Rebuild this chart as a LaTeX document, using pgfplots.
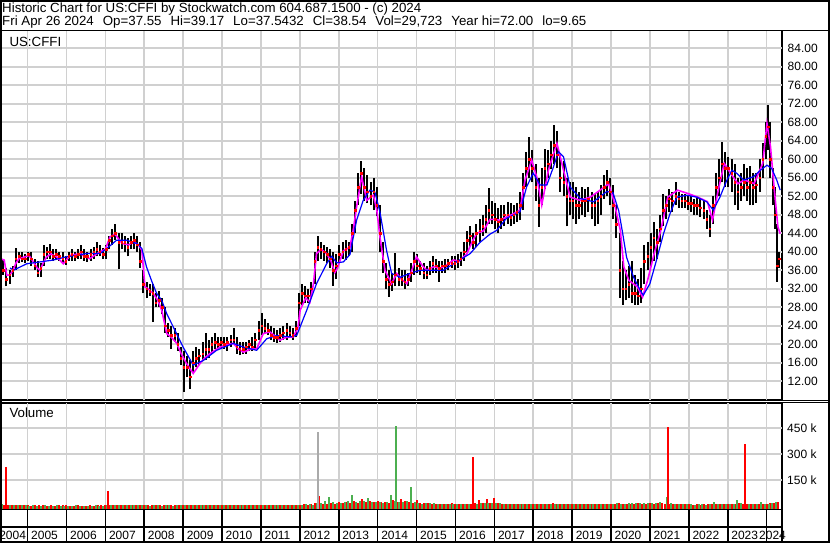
\documentclass[border=0pt]{standalone}
\usepackage{pgfplots}
\pgfplotsset{compat=1.18}
\usepackage{pgfplotstable}
\usepackage{fontspec}
\setmainfont{Liberation Sans}
\definecolor{gridc}{RGB}{208,208,208}
\definecolor{vred}{RGB}{255,0,0}
\definecolor{vgreen}{RGB}{76,175,80}
\definecolor{vgray}{RGB}{170,170,170}
\definecolor{magen}{RGB}{255,0,255}
\definecolor{mablue}{RGB}{0,0,255}

\pgfplotstableread[row sep=\\]{
x hi lo cl\\
2004.30 39.5 36.5 38\\ 2004.38 38.5 35.0 36\\ 2004.46 36.5 32.5 34\\ 2004.54 36.0 33.0 35\\ 2004.62 37.0 34.5 36\\
2004.70 40.8 36.0 38.5\\ 2004.78 40.0 37.5 39\\ 2004.86 40.0 37.8 38.5\\ 2004.94 39.5 37.5 38.5\\
2005.02 40.0 38.0 39.5\\ 2005.10 40.0 37.0 38.5\\ 2005.18 38.5 36.0 37\\ 2005.26 38.0 34.5 35.5\\ 2005.34 37.5 34.5 36.5\\
2005.42 41.5 37.0 39.5\\ 2005.50 41.0 38.5 40\\ 2005.58 41.6 38.5 40\\ 2005.66 40.5 38.0 39\\ 2005.74 40.5 38.5 39.5\\
2005.82 40.0 38.0 39\\ 2005.90 40.0 37.5 38.5\\ 2005.98 39.0 37.2 38\\
2006.06 40.0 38.0 39\\ 2006.14 40.5 38.0 39.5\\ 2006.22 40.0 38.0 39\\ 2006.30 40.5 38.5 39.5\\ 2006.38 41.4 38.5 40\\
2006.46 40.5 38.0 39\\ 2006.54 40.0 37.8 39\\ 2006.62 40.5 38.0 39.5\\ 2006.70 41.0 38.5 40\\ 2006.78 42.0 39.0 40.5\\
2006.86 41.5 39.0 40\\ 2006.94 40.7 38.4 39.5\\
2007.02 41.5 38.5 40.5\\ 2007.10 43.5 40.5 42.5\\ 2007.18 45.0 41.5 43.5\\ 2007.26 45.9 42.5 44\\ 2007.34 44.0 36.2 42\\
2007.42 44.0 40.5 42\\ 2007.50 43.5 40.0 42\\ 2007.58 43.0 39.0 41\\ 2007.66 43.5 40.5 42\\ 2007.74 44.0 40.5 42.5\\
2007.82 43.5 40.0 41.5\\ 2007.90 42.0 36.5 38\\ 2007.98 36.0 31.0 33\\
2008.06 33.5 30.0 32\\ 2008.14 33.0 30.5 31.5\\ 2008.22 33.0 24.8 31\\ 2008.30 31.0 28.0 29\\ 2008.38 31.5 28.0 29.5\\
2008.46 30.0 26.5 28\\ 2008.54 28.0 22.5 24\\ 2008.62 24.5 21.5 23\\ 2008.70 24.0 19.0 22\\ 2008.78 23.5 20.5 22\\
2008.86 22.5 18.5 20\\ 2008.94 19.5 15.5 17\\
2009.02 18.5 9.7 15\\ 2009.10 17.5 13.0 15\\ 2009.18 16.5 10.3 13\\ 2009.26 18.5 14.0 16\\ 2009.34 19.5 15.0 17\\
2009.42 19.0 15.5 17.5\\ 2009.50 20.5 16.5 18\\ 2009.58 22.5 16.5 19\\ 2009.66 21.0 17.0 19\\ 2009.74 21.5 18.0 20\\
2009.82 22.5 19.0 20.5\\ 2009.90 21.5 19.0 20\\ 2009.98 21.5 19.0 20.5\\
2010.06 21.5 19.0 20\\ 2010.14 21.5 18.5 20.5\\ 2010.22 22.0 19.5 21\\ 2010.30 23.6 20.0 21\\ 2010.38 21.5 18.0 19.5\\
2010.46 20.5 17.6 19\\ 2010.54 20.5 17.8 19\\ 2010.62 20.5 18.0 19.5\\ 2010.70 21.0 18.5 20\\ 2010.78 21.5 18.5 19.5\\
2010.86 22.5 19.0 21\\ 2010.94 25.0 21.0 23\\
2011.02 26.8 22.0 24\\ 2011.10 25.5 22.5 23.5\\ 2011.18 24.5 22.0 23\\ 2011.26 24.0 21.0 22\\ 2011.34 23.5 20.5 21.5\\
2011.42 23.0 20.3 21.5\\ 2011.50 23.5 20.5 22\\ 2011.58 24.0 21.0 22.5\\ 2011.66 24.5 21.0 23\\ 2011.74 24.0 21.5 22.5\\
2011.82 23.5 21.0 22\\ 2011.90 25.0 21.5 23.5\\ 2011.98 31.0 24.0 29\\
2012.06 33.0 28.5 31\\ 2012.14 32.5 29.0 30.5\\ 2012.22 32.0 29.0 30.5\\ 2012.30 33.5 30.0 32\\ 2012.38 40.0 33.0 38\\
2012.46 43.3 38.0 41\\ 2012.54 42.0 38.5 40.5\\ 2012.62 41.5 38.0 40\\ 2012.70 41.0 37.5 39.5\\ 2012.78 40.5 36.5 38.5\\
2012.86 40.0 32.7 36\\ 2012.94 39.5 34.0 37\\
2013.02 41.5 37.5 39.5\\ 2013.10 42.0 38.5 40\\ 2013.18 42.6 38.3 40.5\\ 2013.26 42.0 39.0 41\\ 2013.34 46.0 40.0 44\\
2013.42 51.0 44.0 49\\ 2013.50 57.0 50.0 54\\ 2013.58 59.6 52.5 57\\ 2013.66 58.0 51.0 54\\ 2013.74 56.5 50.5 53\\
2013.82 55.0 50.0 52\\ 2013.90 56.0 49.0 53\\ 2013.98 54.0 47.7 50\\
2014.06 50.0 40.0 44\\ 2014.14 42.0 35.5 38\\ 2014.22 37.5 32.0 34\\ 2014.30 36.0 30.3 33\\ 2014.38 35.5 31.5 33.5\\
2014.46 39.7 32.5 35\\ 2014.54 36.5 32.5 34\\ 2014.62 36.0 32.6 34\\ 2014.70 36.0 32.0 33.5\\ 2014.78 35.5 32.5 34\\
2014.86 37.5 33.5 35.5\\ 2014.94 40.0 35.0 38\\
2015.02 39.5 35.5 37\\ 2015.10 38.0 35.0 36.5\\ 2015.18 37.5 34.0 35.5\\ 2015.26 37.0 34.0 35\\ 2015.34 38.0 35.0 36.5\\
2015.42 39.0 35.5 37.5\\ 2015.50 38.5 35.5 37\\ 2015.58 38.0 33.5 36.5\\ 2015.66 38.0 35.5 37\\ 2015.74 38.5 35.5 37\\
2015.82 38.5 36.0 37.5\\ 2015.90 39.0 36.5 37.5\\ 2015.98 39.0 36.0 37.5\\
2016.06 39.5 36.5 38\\ 2016.14 40.0 37.0 38.5\\ 2016.22 42.0 38.0 40\\ 2016.30 44.5 40.0 42.5\\ 2016.38 45.5 41.0 43.5\\
2016.46 44.0 40.5 42\\ 2016.54 46.0 41.0 44\\ 2016.62 47.0 42.0 44.5\\ 2016.70 48.0 43.5 45.5\\ 2016.78 50.0 44.0 47\\
2016.86 53.8 46.0 49\\ 2016.94 51.0 46.0 48\\
2017.02 50.5 45.0 47\\ 2017.10 49.5 44.0 46.5\\ 2017.18 50.0 45.0 47\\ 2017.26 50.0 45.5 48\\ 2017.34 50.8 46.0 48\\
2017.42 50.5 45.5 47.5\\ 2017.50 50.0 46.0 48\\ 2017.58 50.5 46.5 48.5\\ 2017.66 53.0 46.8 50\\ 2017.74 57.0 49.0 54\\
2017.82 61.6 54.0 58\\ 2017.90 64.8 56.0 60\\ 2017.98 62.0 55.0 58\\
2018.06 59.0 51.0 54\\ 2018.14 56.0 45.4 50\\ 2018.22 58.0 50.0 54\\ 2018.30 62.3 53.6 58\\ 2018.38 62.0 56.0 59\\
2018.46 64.0 57.9 61\\ 2018.54 67.4 59.0 63\\ 2018.62 66.0 58.0 61\\ 2018.70 61.0 53.0 56\\ 2018.78 59.5 52.0 55\\
2018.86 56.0 45.5 52\\ 2018.94 55.0 48.0 51\\
2019.02 55.0 47.0 51\\ 2019.10 54.0 46.0 50\\ 2019.18 53.0 47.0 50\\ 2019.26 54.0 48.0 51\\ 2019.34 53.5 47.5 51\\
2019.42 54.0 48.5 51.5\\ 2019.50 53.0 47.0 50\\ 2019.58 52.5 45.5 50\\ 2019.66 53.0 46.0 51\\ 2019.74 54.5 48.0 52\\
2019.82 56.5 51.5 54\\ 2019.90 57.6 52.0 55\\ 2019.98 56.0 50.0 53\\
2020.06 54.5 47.0 50\\ 2020.14 50.0 43.0 46\\ 2020.22 44.0 30.0 36\\ 2020.30 38.0 28.5 32\\ 2020.38 36.0 29.5 32\\
2020.46 37.0 30.0 33\\ 2020.54 38.0 29.0 31\\ 2020.62 35.0 28.5 31\\ 2020.70 34.0 28.5 30.5\\ 2020.78 36.5 29.0 32\\
2020.86 41.5 33.0 38\\ 2020.94 42.0 36.0 39\\
2021.02 44.0 37.0 41\\ 2021.10 46.5 38.0 43\\ 2021.18 45.0 38.5 42\\ 2021.26 48.0 42.0 45\\ 2021.34 52.5 45.5 49\\
2021.42 52.0 47.0 50\\ 2021.50 53.5 48.5 51.5\\ 2021.58 53.0 48.5 51\\ 2021.66 55.1 50.0 52\\ 2021.74 53.0 49.5 51.5\\
2021.82 52.5 49.5 51\\ 2021.90 52.5 49.5 51\\ 2021.98 52.0 49.0 50.5\\
2022.06 52.0 48.5 50.5\\ 2022.14 51.5 48.0 50\\ 2022.22 52.0 48.0 50\\ 2022.30 51.5 47.5 49.5\\ 2022.38 51.0 47.0 49\\
2022.46 49.0 45.0 47\\ 2022.54 48.0 43.1 45\\ 2022.62 52.0 46.0 50\\ 2022.70 57.0 50.0 54\\ 2022.78 60.0 52.0 56\\
2022.86 63.6 55.0 59\\ 2022.94 61.5 54.0 58\\
2023.02 60.5 54.0 58\\ 2023.10 60.0 53.0 57\\ 2023.18 59.0 50.0 55\\ 2023.26 56.0 49.0 53\\ 2023.34 57.0 51.0 54\\
2023.42 59.0 52.0 55\\ 2023.50 58.0 51.0 54\\ 2023.58 58.5 50.0 55\\ 2023.66 57.0 50.0 54\\ 2023.74 57.0 50.5 54.5\\
2023.82 60.0 53.0 56\\ 2023.90 63.5 56.0 60\\ 2023.98 68.0 60.0 65\\
2024.04 71.7 62.0 67\\ 2024.10 68.0 56.0 60\\ 2024.16 58.0 50.0 54\\ 2024.22 54.0 45.0 48\\ 2024.28 46.0 33.5 37\\ 2024.32 40.0 36.5 38.5\\
}\price

\pgfplotstableread[row sep=\\]{
x y\\
2004.30 38.5\\ 2004.40 38.2\\ 2004.47 34.9\\ 2004.55 35.0\\ 2004.63 36.0\\ 2004.70 37.5\\ 2004.78 38.5\\ 2004.90 38.8\\
2005.04 39.2\\ 2005.15 37.8\\ 2005.25 36.5\\ 2005.32 36.0\\ 2005.40 37.5\\ 2005.49 38.9\\ 2005.60 39.5\\ 2005.75 38.9\\ 2005.92 37.4\\
2006.10 39.2\\ 2006.35 39.6\\ 2006.60 38.5\\ 2006.86 40.0\\ 2007.00 40.5\\ 2007.12 43.2\\ 2007.25 43.8\\ 2007.43 41.8\\
2007.60 41.5\\ 2007.73 42.1\\ 2007.85 41.5\\ 2007.94 40.3\\ 2008.02 32.4\\ 2008.10 32.0\\ 2008.23 31.0\\ 2008.35 29.5\\
2008.45 27.4\\ 2008.58 22.3\\ 2008.70 21.5\\ 2008.84 20.2\\ 2008.95 18.0\\ 2009.09 15.8\\ 2009.26 13.7\\ 2009.43 15.8\\
2009.55 17.0\\ 2009.69 18.0\\ 2009.95 19.4\\ 2010.15 20.0\\ 2010.29 20.2\\ 2010.42 19.0\\ 2010.55 18.3\\ 2010.75 19.0\\
2010.89 19.0\\ 2011.06 22.3\\ 2011.23 22.7\\ 2011.40 21.5\\ 2011.49 20.9\\ 2011.65 21.5\\ 2011.83 21.6\\ 2011.95 23.5\\
2012.01 27.4\\ 2012.15 30.0\\ 2012.26 29.1\\ 2012.35 33.0\\ 2012.43 39.6\\ 2012.55 40.5\\ 2012.69 39.6\\ 2012.80 38.0\\
2012.90 35.5\\ 2012.97 36.5\\ 2013.12 40.2\\ 2013.29 41.0\\ 2013.38 45.0\\ 2013.46 49.7\\ 2013.59 56.2\\ 2013.72 51.1\\
2013.89 52.2\\ 2013.98 49.0\\ 2014.06 43.2\\ 2014.19 36.0\\ 2014.36 33.1\\ 2014.49 35.3\\ 2014.62 34.0\\ 2014.75 33.1\\
2014.88 36.0\\ 2015.00 38.9\\ 2015.15 37.0\\ 2015.26 36.0\\ 2015.45 36.8\\ 2015.60 36.4\\ 2015.80 37.2\\ 2015.94 38.2\\
2016.10 38.0\\ 2016.29 39.5\\ 2016.45 42.5\\ 2016.55 44.0\\ 2016.72 44.5\\ 2016.89 47.0\\ 2017.00 47.0\\ 2017.15 46.8\\
2017.31 47.5\\ 2017.45 48.0\\ 2017.66 49.0\\ 2017.79 55.5\\ 2017.96 59.8\\ 2018.09 56.2\\ 2018.22 50.1\\ 2018.39 57.6\\
2018.61 63.4\\ 2018.78 57.6\\ 2018.95 51.8\\ 2019.21 51.1\\ 2019.47 51.8\\ 2019.72 53.3\\ 2019.94 54.7\\ 2020.07 51.1\\
2020.24 44.6\\ 2020.33 36.7\\ 2020.46 33.8\\ 2020.68 32.4\\ 2020.81 30.2\\ 2020.94 33.8\\ 2021.11 39.6\\ 2021.28 44.6\\
2021.46 51.8\\ 2021.71 53.3\\ 2021.97 52.6\\ 2022.23 51.8\\ 2022.48 50.8\\ 2022.61 46.8\\ 2022.74 52.6\\ 2022.91 59.1\\
2023.08 56.9\\ 2023.26 54.7\\ 2023.43 55.5\\ 2023.68 54.7\\ 2023.90 59.1\\ 2024.01 67.7\\ 2024.10 62.7\\ 2024.20 53.3\\
2024.29 45.4\\ 2024.35 43.9\\
}\magtab

\pgfplotstableread[row sep=\\]{
x y\\
2004.55 36.5\\ 2004.64 36.0\\ 2004.98 37.4\\ 2005.32 37.8\\ 2005.66 38.2\\ 2006.00 38.9\\ 2006.52 39.6\\ 2006.86 39.6\\
2007.04 40.7\\ 2007.29 42.5\\ 2007.55 42.5\\ 2007.72 42.0\\ 2007.81 41.8\\ 2007.94 40.7\\ 2008.06 36.7\\ 2008.20 33.5\\
2008.32 31.0\\ 2008.45 29.5\\ 2008.58 26.6\\ 2008.75 23.7\\ 2009.00 19.4\\ 2009.26 15.5\\ 2009.52 16.5\\ 2009.86 18.7\\
2010.29 20.2\\ 2010.55 19.4\\ 2010.89 18.7\\ 2011.15 21.2\\ 2011.41 21.9\\ 2011.75 21.6\\ 2011.92 21.9\\ 2012.18 27.4\\
2012.43 33.1\\ 2012.69 37.4\\ 2012.82 39.0\\ 2012.95 37.6\\ 2013.12 37.8\\ 2013.29 39.4\\ 2013.46 46.8\\ 2013.63 51.1\\
2013.80 53.3\\ 2013.93 52.9\\ 2014.06 48.6\\ 2014.23 40.3\\ 2014.36 35.3\\ 2014.58 34.5\\ 2014.83 35.3\\ 2015.09 36.0\\
2015.35 36.0\\ 2015.69 36.0\\ 2016.03 37.8\\ 2016.38 39.6\\ 2016.63 42.0\\ 2016.89 43.8\\ 2017.06 44.6\\ 2017.31 47.2\\
2017.66 48.6\\ 2017.83 54.0\\ 2018.00 57.0\\ 2018.18 54.4\\ 2018.35 54.4\\ 2018.52 58.3\\ 2018.65 61.6\\ 2018.78 60.5\\
2018.95 54.0\\ 2019.21 51.5\\ 2019.55 50.8\\ 2019.89 53.0\\ 2020.05 52.8\\ 2020.20 48.8\\ 2020.30 44.0\\ 2020.40 38.8\\
2020.58 34.5\\ 2020.75 31.7\\ 2020.83 30.6\\ 2021.00 33.1\\ 2021.17 38.2\\ 2021.35 43.9\\ 2021.52 48.3\\ 2021.69 51.8\\
2021.95 52.2\\ 2022.20 51.8\\ 2022.46 50.8\\ 2022.63 49.0\\ 2022.80 51.8\\ 2022.98 55.5\\ 2023.11 57.6\\ 2023.24 56.9\\
2023.41 55.5\\ 2023.66 56.2\\ 2023.84 57.6\\ 2024.01 58.7\\ 2024.13 58.0\\ 2024.26 55.5\\ 2024.35 53.3\\
}\bluetab

\pgfplotstableread[row sep=\\]{
x v\\
2004.3 10\\ 2004.4 8\\ 2004.5 6\\ 2004.6 5\\ 2004.7 4\\ 2004.8 6\\ 2004.9 3\\
2005.0 3\\ 2005.1 2\\ 2005.2 4\\ 2005.3 3\\ 2005.4 5\\ 2005.5 2\\ 2005.6 3\\ 2005.7 2\\ 2005.8 3\\ 2005.9 4\\
2006.0 3\\ 2006.1 2\\ 2006.2 2\\ 2006.3 3\\ 2006.4 2\\ 2006.5 2\\ 2006.6 3\\ 2006.7 2\\ 2006.8 4\\ 2006.9 3\\
2007.0 4\\ 2007.1 6\\ 2007.2 5\\ 2007.3 3\\ 2007.4 8\\ 2007.5 4\\ 2007.6 3\\ 2007.7 5\\ 2007.8 4\\ 2007.9 3\\
2008.0 4\\ 2008.1 3\\ 2008.2 5\\ 2008.3 3\\ 2008.4 4\\ 2008.5 5\\ 2008.6 3\\ 2008.7 4\\ 2008.8 3\\ 2008.9 4\\
2009.0 4\\ 2009.1 3\\ 2009.2 3\\ 2009.3 5\\ 2009.4 3\\ 2009.5 4\\ 2009.6 3\\ 2009.7 3\\ 2009.8 4\\ 2009.9 3\\
2010.0 3\\ 2010.1 4\\ 2010.2 3\\ 2010.3 5\\ 2010.4 3\\ 2010.5 4\\ 2010.6 4\\ 2010.7 3\\ 2010.8 5\\ 2010.9 4\\
2011.0 5\\ 2011.1 4\\ 2011.2 4\\ 2011.3 6\\ 2011.4 4\\ 2011.5 5\\ 2011.6 5\\ 2011.7 4\\ 2011.8 5\\ 2011.9 6\\
2012.0 8\\ 2012.1 10\\ 2012.2 8\\ 2012.3 9\\ 2012.4 18\\ 2012.5 55\\ 2012.6 12\\ 2012.7 10\\ 2012.8 18\\ 2012.9 12\\
2013.0 25\\ 2013.1 20\\ 2013.2 22\\ 2013.3 18\\ 2013.4 30\\ 2013.5 20\\ 2013.6 40\\ 2013.7 22\\ 2013.8 30\\ 2013.9 25\\
2014.0 30\\ 2014.1 25\\ 2014.2 22\\ 2014.3 20\\ 2014.4 35\\ 2014.5 25\\ 2014.6 40\\ 2014.7 30\\ 2014.8 25\\ 2014.9 20\\
2015.0 35\\ 2015.1 18\\ 2015.2 15\\ 2015.3 20\\ 2015.4 12\\ 2015.5 14\\ 2015.6 12\\ 2015.7 10\\ 2015.8 12\\ 2015.9 15\\
2016.0 12\\ 2016.1 10\\ 2016.2 14\\ 2016.3 12\\ 2016.4 10\\ 2016.5 15\\ 2016.6 35\\ 2016.7 20\\ 2016.8 40\\ 2016.9 18\\
2017.0 44\\ 2017.1 15\\ 2017.2 12\\ 2017.3 14\\ 2017.4 10\\ 2017.5 12\\ 2017.6 10\\ 2017.7 12\\ 2017.8 10\\ 2017.9 14\\
2018.0 12\\ 2018.1 10\\ 2018.2 14\\ 2018.3 12\\ 2018.4 10\\ 2018.5 16\\ 2018.6 12\\ 2018.7 10\\ 2018.8 12\\ 2018.9 10\\
2019.0 12\\ 2019.1 14\\ 2019.2 10\\ 2019.3 12\\ 2019.4 10\\ 2019.5 12\\ 2019.6 14\\ 2019.7 10\\ 2019.8 12\\ 2019.9 10\\
2020.0 12\\ 2020.1 14\\ 2020.2 16\\ 2020.3 12\\ 2020.4 10\\ 2020.5 14\\ 2020.6 12\\ 2020.7 15\\ 2020.8 12\\ 2020.9 14\\
2021.0 16\\ 2021.1 14\\ 2021.2 18\\ 2021.3 20\\ 2021.4 14\\ 2021.5 12\\ 2021.6 14\\ 2021.7 12\\ 2021.8 10\\ 2021.9 12\\
2022.0 10\\ 2022.1 8\\ 2022.2 10\\ 2022.3 8\\ 2022.4 10\\ 2022.5 12\\ 2022.6 10\\ 2022.7 14\\ 2022.8 10\\ 2022.9 12\\
2023.0 12\\ 2023.1 14\\ 2023.2 10\\ 2023.3 18\\ 2023.4 12\\ 2023.5 14\\ 2023.6 12\\ 2023.7 10\\ 2023.8 14\\ 2023.9 12\\
2024.0 14\\ 2024.1 18\\ 2024.2 20\\ 2024.3 26\\
}\vredtab

\pgfplotstableread[row sep=\\]{
x v\\
2004.35 12\\ 2004.45 14\\ 2004.55 8\\ 2004.65 6\\ 2004.75 5\\ 2004.85 4\\ 2004.95 3\\
2005.05 2\\ 2005.15 3\\ 2005.25 2\\ 2005.35 2\\ 2005.45 3\\ 2005.55 2\\ 2005.65 2\\ 2005.75 3\\ 2005.85 2\\ 2005.95 2\\
2006.05 2\\ 2006.15 2\\ 2006.25 3\\ 2006.35 2\\ 2006.45 2\\ 2006.55 2\\ 2006.65 2\\ 2006.75 3\\ 2006.85 2\\ 2006.95 2\\
2007.05 5\\ 2007.15 4\\ 2007.25 3\\ 2007.35 3\\ 2007.45 4\\ 2007.55 3\\ 2007.65 3\\ 2007.75 3\\ 2007.85 4\\ 2007.95 3\\
2008.05 3\\ 2008.15 2\\ 2008.25 3\\ 2008.35 3\\ 2008.45 2\\ 2008.55 3\\ 2008.65 3\\ 2008.75 2\\ 2008.85 3\\ 2008.95 3\\
2009.05 3\\ 2009.15 3\\ 2009.25 4\\ 2009.35 3\\ 2009.45 8\\ 2009.55 6\\ 2009.65 4\\ 2009.75 3\\ 2009.85 3\\ 2009.95 3\\
2010.05 4\\ 2010.15 3\\ 2010.25 3\\ 2010.35 3\\ 2010.45 3\\ 2010.55 3\\ 2010.65 4\\ 2010.75 3\\ 2010.85 3\\ 2010.95 4\\
2011.05 4\\ 2011.15 3\\ 2011.25 4\\ 2011.35 3\\ 2011.45 5\\ 2011.55 4\\ 2011.65 6\\ 2011.75 5\\ 2011.85 4\\ 2011.95 6\\
2012.05 8\\ 2012.15 12\\ 2012.25 10\\ 2012.35 8\\ 2012.45 15\\ 2012.55 20\\ 2012.65 30\\ 2012.75 54\\ 2012.85 25\\ 2012.95 20\\
2013.05 20\\ 2013.15 26\\ 2013.25 30\\ 2013.35 63\\ 2013.45 25\\ 2013.55 30\\ 2013.65 28\\ 2013.75 44\\ 2013.85 22\\ 2013.95 25\\
2014.05 25\\ 2014.15 20\\ 2014.25 22\\ 2014.35 63\\ 2014.45 30\\ 2014.55 22\\ 2014.65 25\\ 2014.75 30\\ 2014.85 20\\ 2014.95 22\\
2015.05 15\\ 2015.15 14\\ 2015.25 17\\ 2015.35 17\\ 2015.45 15\\ 2015.55 12\\ 2015.65 10\\ 2015.75 12\\ 2015.85 10\\ 2015.95 12\\
2016.05 10\\ 2016.15 12\\ 2016.25 10\\ 2016.35 12\\ 2016.45 10\\ 2016.55 12\\ 2016.65 15\\ 2016.75 18\\ 2016.85 15\\ 2016.95 20\\
2017.05 15\\ 2017.15 15\\ 2017.25 12\\ 2017.35 10\\ 2017.45 12\\ 2017.55 14\\ 2017.65 10\\ 2017.75 12\\ 2017.85 14\\ 2017.95 12\\
2018.05 12\\ 2018.15 14\\ 2018.25 10\\ 2018.35 12\\ 2018.45 10\\ 2018.55 12\\ 2018.65 12\\ 2018.75 14\\ 2018.85 10\\ 2018.95 12\\
2019.05 10\\ 2019.15 12\\ 2019.25 10\\ 2019.35 12\\ 2019.45 14\\ 2019.55 10\\ 2019.65 12\\ 2019.75 10\\ 2019.85 12\\ 2019.95 10\\
2020.05 14\\ 2020.15 16\\ 2020.25 12\\ 2020.35 14\\ 2020.45 18\\ 2020.55 20\\ 2020.65 16\\ 2020.75 18\\ 2020.85 20\\ 2020.95 18\\
2021.05 20\\ 2021.15 18\\ 2021.25 22\\ 2021.45 54\\ 2021.55 16\\ 2021.65 14\\ 2021.75 12\\ 2021.85 12\\ 2021.95 10\\
2022.05 10\\ 2022.15 8\\ 2022.25 10\\ 2022.35 12\\ 2022.45 8\\ 2022.55 10\\ 2022.65 26\\ 2022.75 14\\ 2022.85 12\\ 2022.95 10\\
2023.05 14\\ 2023.15 12\\ 2023.25 35\\ 2023.35 16\\ 2023.45 12\\ 2023.55 14\\ 2023.65 12\\ 2023.75 10\\ 2023.85 26\\ 2023.95 12\\
2024.05 12\\ 2024.15 16\\ 2024.25 26\\
}\vgreentab

\pgfplotstableread[row sep=\\]{
x v\\
2004.45 227\\ 2007.07 87\\ 2016.45 284\\ 2021.46 457\\ 2023.44 358\\
}\vredspike
\pgfplotstableread[row sep=\\]{
x v\\
2014.47 463\\ 2014.86 111\\
}\vgreenspike
\pgfplotstableread[row sep=\\]{
x v\\
2012.47 429\\
}\vgrayspike

\pgfplotsset{
  volbars/.style={draw=none, mark=none, forget plot,
    error bars/.cd, y dir=plus, y explicit, error mark=none,
    error bar style={draw=#1, line width=2pt}},
  volspike/.style={draw=none, mark=none, forget plot,
    error bars/.cd, y dir=plus, y explicit, error mark=none,
    error bar style={draw=#1, line width=1.6pt}},
  panel/.style={
    scale only axis, anchor=south west,
    xmin=2004.293, xmax=2024.396,
    xtick={2005,2006,...,2024}, xticklabels={},
    axis line style={line width=1.6pt},
    major tick length=0pt,
  },
}
\newcommand{\gap}{\hspace{9pt}}

\begin{document}
\begin{tikzpicture}
\path[use as bounding box] (0pt,0pt) rectangle (830pt,543pt);

% price panel
\begin{axis}[panel, at={(0pt,142.7pt)}, width=782pt, height=369.8pt,
  ymin=7.9, ymax=87.8, ytick={12,16,...,84},
  yticklabel pos=right,
  yticklabel style={anchor=west, inner sep=0pt, xshift=5.5pt, font=\fontsize{12}{14}\selectfont},
  /pgf/number format/.cd, fixed, fixed zerofill, precision=2, assume math mode=true]
\pgfplotsinvokeforeach{2005,2006,...,2024}{
  \draw[gridc, line width=1.6pt] (axis cs:#1,7.9) -- (axis cs:#1,87.8);}
\pgfplotsinvokeforeach{12,16,...,84}{
  \draw[gridc, line width=1.9pt] (axis cs:2004.293,#1) -- (axis cs:2024.396,#1);}
\addplot[draw=none, mark=none, error bars/.cd, y dir=plus, y explicit, error mark=none,
  error bar style={draw=black, line width=2.0pt}]
  table[x=x, y=lo, y error expr=\thisrow{hi}-\thisrow{lo}] {\price};
\addplot[only marks, mark=square*, mark size=0.8pt, color=vred] table[x=x, y=cl] {\price};
\addplot[magen, line width=1.6pt, mark=none] table[x=x, y=y] {\magtab};
\addplot[mablue, line width=1.2pt, mark=none] table[x=x, y=y] {\bluetab};
\end{axis}

% volume panel
\begin{axis}[panel, at={(0pt,33.5pt)}, width=782pt, height=106.7pt,
  ymin=-20.2, ymax=597, ytick={150,300,450}, yticklabels={150 k,300 k,450 k},
  yticklabel pos=right,
  yticklabel style={anchor=west, inner sep=0pt, xshift=5pt, font=\fontsize{12}{14}\selectfont}]
\pgfplotsinvokeforeach{2005,2006,...,2024}{
  \draw[gridc, line width=1.6pt] (axis cs:#1,-20.2) -- (axis cs:#1,597);}
\pgfplotsinvokeforeach{150,300,450}{
  \draw[gridc, line width=1.9pt] (axis cs:2004.293,#1) -- (axis cs:2024.396,#1);}
\addplot[volbars=vred] table[x=x, y expr=-20.2, y error plus expr=\thisrow{v}+20.2] {\vredtab};
\addplot[volbars=vgreen] table[x=x, y expr=-20.2, y error plus expr=\thisrow{v}+20.2] {\vgreentab};
\addplot[volspike=vred] table[x=x, y expr=-20.2, y error plus expr=\thisrow{v}+20.2] {\vredspike};
\addplot[volspike=vgreen] table[x=x, y expr=-20.2, y error plus expr=\thisrow{v}+20.2] {\vgreenspike};
\addplot[volspike=vgray] table[x=x, y expr=-20.2, y error plus expr=\thisrow{v}+20.2] {\vgrayspike};
\end{axis}

% date row
\begin{axis}[panel, at={(0pt,1pt)}, width=782pt, height=32.5pt,
  ymin=0, ymax=1, ytick=\empty, clip=false]
\pgfplotsinvokeforeach{2005,2006,...,2024}{
  \draw[black, line width=1.6pt] (axis cs:#1,0) -- (axis cs:#1,1);}
\draw[line width=1.6pt] (rel axis cs:0,0.4615) -- (rel axis cs:1,0.4615);
\pgfplotsinvokeforeach{2005,2006,...,2023}{
  \node[anchor=base west, inner sep=0pt, xshift=3.5pt, font=\fontsize{12}{14}\selectfont] at (axis cs:#1,0.085) {#1};
}
\node[anchor=base west, inner sep=0pt, font=\fontsize{12}{14}\selectfont] at (axis cs:2004.27,0.085) {2004};
\node[anchor=base east, inner sep=0pt, font=\fontsize{12}{14}\selectfont] at (axis cs:2024.50,0.085) {2024};
\end{axis}

% frames and texts
\draw[line width=1.6pt] (0.8pt,0.8pt) rectangle (829.2pt,542.2pt);
\draw[line width=1.6pt] (0pt,512.5pt) -- (830pt,512.5pt);
\draw[line width=1.4pt] (782pt,142.7pt) -- (830pt,142.7pt);
\draw[line width=1.4pt] (782pt,140.2pt) -- (830pt,140.2pt);

\node[anchor=base west, inner sep=0pt, font=\fontsize{13.3}{16}\selectfont] at (2pt,530.3pt)
  {Historic Chart for US:CFFI by Stockwatch.com 604.687.1500 - (c) 2024};
\node[anchor=base west, inner sep=0pt, font=\fontsize{13.3}{16}\selectfont] at (2pt,517pt)
  {Fri Apr 26 2024\gap Op=37.55\gap Hi=39.17\gap Lo=37.5432\gap Cl=38.54\gap Vol=29,723\gap Year hi=72.00\gap lo=9.65};
\node[anchor=base west, inner sep=0pt, font=\fontsize{13.3}{16}\selectfont] at (9.3pt,496.3pt) {US:CFFI};
\node[anchor=base west, inner sep=0pt, font=\fontsize{13.3}{16}\selectfont] at (9.3pt,125.7pt) {Volume};
\end{tikzpicture}
\end{document}
